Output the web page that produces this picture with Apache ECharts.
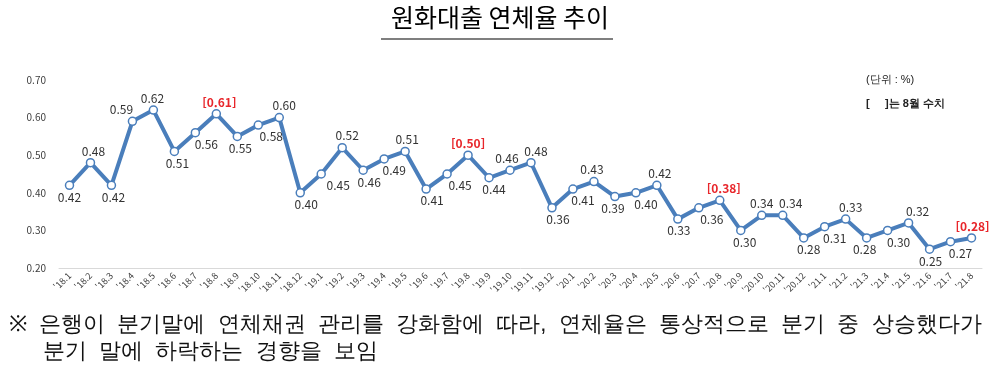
<!DOCTYPE html>
<html lang="ko">
<head>
<meta charset="utf-8" />
<title>원화대출 연체율 추이</title>
<style>
  html, body { margin: 0; padding: 0; background: #fff; }
  #chart { width: 1000px; height: 377px; }
</style>
</head>
<body>
<div id="chart"></div>
<script src="https://cdn.jsdelivr.net/npm/echarts@6/dist/echarts.min.js"></script>
<script>
// 월별 구간
var months = [
  "'18.1","'18.2","'18.3","'18.4","'18.5","'18.6","'18.7","'18.8","'18.9","'18.10","'18.11","'18.12",
  "'19.1","'19.2","'19.3","'19.4","'19.5","'19.6","'19.7","'19.8","'19.9","'19.10","'19.11","'19.12",
  "'20.1","'20.2","'20.3","'20.4","'20.5","'20.6","'20.7","'20.8","'20.9","'20.10","'20.11","'20.12",
  "'21.1","'21.2","'21.3","'21.4","'21.5","'21.6","'21.7","'21.8"
];
// 연체율 (%)
var rates = [
  0.42,0.48,0.42,0.59,0.62,0.51,0.56,0.61,0.55,0.58,0.60,0.40,
  0.45,0.52,0.46,0.49,0.51,0.41,0.45,0.50,0.44,0.46,0.48,0.36,
  0.41,0.43,0.39,0.40,0.42,0.33,0.36,0.38,0.30,0.34,0.34,0.28,
  0.31,0.33,0.28,0.30,0.32,0.25,0.27,0.28
];
var yTicks = [0.20, 0.30, 0.40, 0.50, 0.60, 0.70];

// 값 라벨 위(u)/아래(d) 및 좌우 이동(px) - 스타일
var labelSide = [
  "duduudduddud",
  "duddudduduud",
  "duddudduduud",
  "dudduddu"
].join("");
var labelDx = [
  0, 3, 2, -11, -1, 3, 11, 3, 3, 13, 5, 6,
  17, 5, 6, 10, 2, 6, 13, 0, 5, -3, 5, 6,
  10, -2, -2, 10, 3, 1, 13, 4, 4, 0, 8, 5,
  10, 5, -2, 11, 9, 1, 10, 1
];

var chart = echarts.init(document.getElementById("chart"));
var blue = "#4a7ebb";

var seriesData = rates.map(function (v, i) {
  var isAug = months[i].slice(-2) === ".8";
  var up = labelSide.charAt(i) === "u";
  var lab = { position: up ? "top" : "bottom", offset: [labelDx[i], 0] };
  if (isAug) {
    lab.color = "#e8262b";
    lab.fontWeight = "bold";
    lab.formatter = function (p) { return "[" + p.value.toFixed(2) + "]"; };
  }
  return { value: v, label: lab };
});

chart.setOption({
  animation: false,
  textStyle: { fontFamily: "'Noto Sans CJK KR', 'Noto Sans', sans-serif" },
  grid: { left: 59, right: 18, top: 80, bottom: 109 },
  graphic: [
    {
      type: "text", left: "center", top: 5,
      style: { text: "원화대출 연체율 추이", fontSize: 25, fill: "#000",
        fontFamily: "'Noto Sans CJK KR', sans-serif" }
    },
    { type: "line", shape: { x1: 381, y1: 39, x2: 613, y2: 39 },
      style: { stroke: "#000", lineWidth: 1.2 } },
    { type: "text", left: 866, top: 74,
      style: { text: "(단위 : %)", fontSize: 11, fill: "#222" } },
    { type: "text", left: 866, top: 98,
      style: { text: "[     ]는 8월 수치", fontSize: 11, fontWeight: "bold", fill: "#222" } },
    { type: "text", left: 9, top: 314,
      style: { text: "※  은행이  분기말에  연체채권  관리를  강화함에  따라,  연체율은  통상적으로  분기  중  상승했다가",
        fontSize: 22, fill: "#111" } },
    { type: "text", left: 43, top: 341,
      style: { text: "분기  말에  하락하는  경향을  보임", fontSize: 22, fill: "#111" } }
  ],
  xAxis: {
    type: "category",
    data: months,
    boundaryGap: true,
    axisLine: { lineStyle: { color: "#d9d9d9" } },
    axisTick: { show: false },
    axisLabel: { rotate: 45, fontSize: 9, color: "#404040", margin: 6, interval: 0 }
  },
  yAxis: {
    type: "value",
    min: yTicks[0],
    max: yTicks[yTicks.length - 1],
    interval: 0.1,
    splitLine: { show: false },
    axisLine: { show: false },
    axisTick: { show: false },
    axisLabel: { fontSize: 10, color: "#404040", margin: 13,
      formatter: function (v) { return v.toFixed(2); } }
  },
  series: [{
    type: "line",
    data: seriesData,
    symbol: "circle",
    symbolSize: 8,
    lineStyle: { color: blue, width: 4 },
    itemStyle: { color: "#fff", borderColor: blue, borderWidth: 1.5 },
    label: {
      show: true, fontSize: 12, color: "#333", distance: 1,
      formatter: function (p) { return p.value.toFixed(2); }
    }
  }]
});
</script>
</body>
</html>
